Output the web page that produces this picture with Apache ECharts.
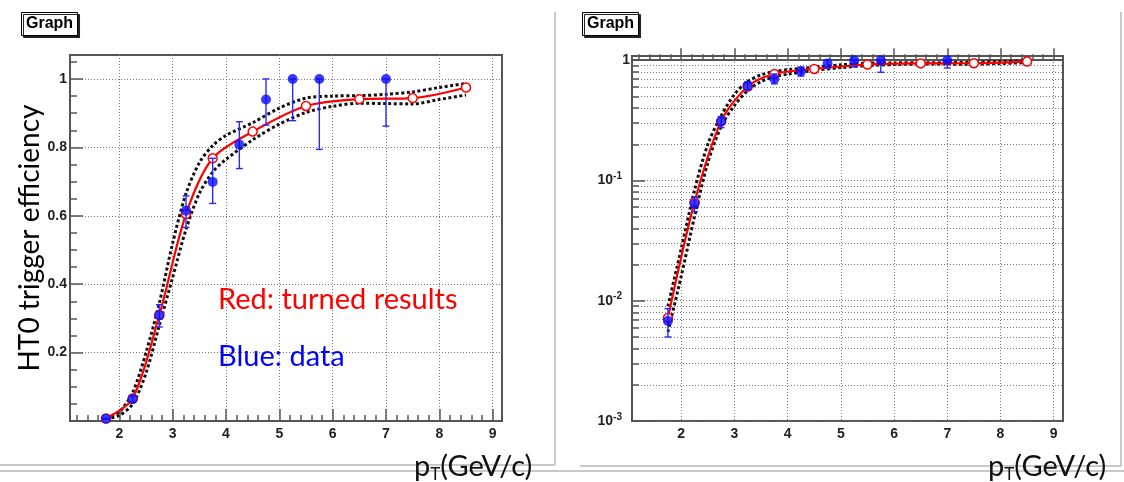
<!DOCTYPE html>
<html>
<head>
<meta charset="utf-8">
<script src="https://cdn.jsdelivr.net/npm/echarts@6/dist/echarts.min.js"></script>
<style>
  html, body { margin: 0; padding: 0; background: #ffffff; }
  #chart { width: 1124px; height: 482px; }
</style>
</head>
<body>
<div id="chart"></div>
<script>
// Measured trigger efficiency (blue) with asymmetric errors
const dataPt    = [1.75, 2.25, 2.75, 3.25, 3.75, 4.25, 4.75, 5.25, 5.75, 7.0];
const dataEff   = [0.0068, 0.064, 0.309, 0.615, 0.699, 0.808, 0.940, 1.0, 1.0, 1.0];
const dataErrLo = [0.0018, 0.009, 0.034, 0.049, 0.063, 0.070, 0.075, 0.122, 0.206, 0.138];
const dataErrHi = [0.0018, 0.009, 0.031, 0.043, 0.069, 0.067, 0.060, 0, 0, 0];

// Tuned efficiency (red)
const fitPt  = [1.75, 2.25, 2.75, 3.25, 3.75, 4.5, 5.5, 6.5, 7.5, 8.5];
const fitEff = [0.0072, 0.066, 0.310, 0.605, 0.768, 0.846, 0.921, 0.941, 0.944, 0.975];

// Uncertainty band of the tuned efficiency (black dotted)
const bandPt    = [1.75, 2.0, 2.25, 2.5, 2.75, 3.0, 3.25, 3.5, 3.75, 4.0, 4.5, 5.0, 5.5, 6.0, 6.5, 7.0, 7.5, 8.0, 8.5];
const bandUpper = [0.009, 0.027, 0.083, 0.20, 0.345, 0.52, 0.665, 0.755, 0.805, 0.835, 0.872, 0.915, 0.944, 0.950, 0.951, 0.955, 0.962, 0.975, 0.987];
const bandLower = [0.0055, 0.016, 0.050, 0.14, 0.280, 0.42, 0.560, 0.665, 0.728, 0.765, 0.822, 0.868, 0.902, 0.920, 0.929, 0.928, 0.927, 0.940, 0.953];

// Axis ticks
const xMajor = [2, 3, 4, 5, 6, 7, 8, 9];
const linMajor = [0.2, 0.4, 0.6, 0.8, 1.0];
const logDecades = [-3, -2, -1, 0];

const X_MIN = 1.075, X_MAX = 9.175;
const LIN_MIN = 0, LIN_MAX = 1.07;
const LOG_MIN = -3, LOG_MAX = 0.035;

const r2 = v => Math.round(v * 1000) / 1000;
const xMinor = [];
for (let v = 1.2; v < X_MAX; v += 0.2) {
  const t = r2(v);
  if (Math.abs(t - Math.round(t)) > 1e-6) xMinor.push(t);
}
const linMinor = [];
for (let v = 0.05; v < LIN_MAX; v += 0.05) {
  const t = r2(v);
  if (Math.abs(t / 0.2 - Math.round(t / 0.2)) > 1e-6) linMinor.push(t);
}
const logMinor = [];
for (let d = -3; d < 0; d++) {
  for (let k = 2; k <= 9; k++) logMinor.push(Math.log10(k) + d);
}

const log10 = v => Math.log10(v);

const AX = '#555';
const labelFont = { fontFamily: 'Liberation Sans', fontWeight: 'bold', fontSize: 14, color: '#222' };
const gridLine = { show: true, lineStyle: { color: '#777', width: 1, type: [1, 2] } };

function xAxes(gi) {
  return [
    {
      gridIndex: gi, type: 'value', position: 'bottom', min: X_MIN, max: X_MAX,
      axisLine: { show: true, lineStyle: { color: AX, width: 2 } },
      axisTick: { show: true, inside: true, length: 12, customValues: xMajor, lineStyle: { color: AX, width: 1.5 } },
      axisLabel: Object.assign({ customValues: xMajor, margin: 6 }, labelFont),
      splitLine: gridLine
    },
    {
      gridIndex: gi, type: 'value', position: 'bottom', min: X_MIN, max: X_MAX,
      axisLine: { show: false },
      axisTick: { show: true, inside: true, length: 6, customValues: xMinor, lineStyle: { color: AX, width: 1.5 } },
      axisLabel: { show: false },
      splitLine: { show: false }
    }
  ];
}

const yAxes = [
  {
    gridIndex: 0, type: 'value', position: 'left', min: LIN_MIN, max: LIN_MAX,
    axisLine: { show: true, lineStyle: { color: AX, width: 2 } },
    axisTick: { show: true, inside: true, length: 13, customValues: linMajor, lineStyle: { color: AX, width: 1.5 } },
    axisLabel: Object.assign({
      customValues: linMajor, margin: 3,
      formatter: v => (Math.abs(v - 1) < 1e-9 ? '1' : v.toFixed(1))
    }, labelFont),
    splitLine: gridLine,
    name: 'HT0 trigger efficiency', nameLocation: 'middle', nameRotate: 90, nameGap: 16,
    nameTextStyle: { fontFamily: 'Lato', fontSize: 28, fontWeight: 'normal', color: '#000' }
  },
  {
    gridIndex: 0, type: 'value', position: 'left', min: LIN_MIN, max: LIN_MAX,
    axisLine: { show: false },
    axisTick: { show: true, inside: true, length: 7, customValues: linMinor, lineStyle: { color: AX, width: 1.5 } },
    axisLabel: { show: false },
    splitLine: { show: false }
  },
  {
    gridIndex: 1, type: 'value', position: 'left', min: LOG_MIN, max: LOG_MAX,
    axisLine: { show: true, lineStyle: { color: AX, width: 2 } },
    axisTick: { show: true, inside: true, length: 13, customValues: logDecades, lineStyle: { color: AX, width: 1.5 } },
    axisLabel: {
      customValues: logDecades, margin: 2,
      formatter: v => (Math.round(v) === 0 ? '{n|1}' : '{n|10}{s|' + Math.round(v) + '}'),
      rich: {
        n: { fontFamily: 'Liberation Sans', fontWeight: 'bold', fontSize: 14, color: '#222' },
        s: { fontFamily: 'Liberation Sans', fontWeight: 'bold', fontSize: 10, color: '#222', padding: [0, 8, 8, 0] }
      }
    },
    splitLine: gridLine
  },
  {
    gridIndex: 1, type: 'value', position: 'left', min: LOG_MIN, max: LOG_MAX,
    axisLine: { show: false },
    axisTick: { show: true, inside: true, length: 7, customValues: logMinor, lineStyle: { color: AX, width: 1.5 } },
    axisLabel: { show: false },
    splitLine: gridLine
  }
];

function errorBars(params, api) {
  const x = api.value(0);
  const lo = api.coord([x, api.value(1)]);
  const hi = api.coord([x, api.value(2)]);
  const cap = 3.5;
  const style = { stroke: '#2a2aff', lineWidth: 1.4 };
  return {
    type: 'group',
    children: [
      { type: 'line', shape: { x1: lo[0], y1: lo[1], x2: hi[0], y2: hi[1] }, style },
      { type: 'line', shape: { x1: lo[0] - cap, y1: lo[1], x2: lo[0] + cap, y2: lo[1] }, style },
      { type: 'line', shape: { x1: hi[0] - cap, y1: hi[1], x2: hi[0] + cap, y2: hi[1] }, style }
    ]
  };
}

function panelSeries(gi, tf) {
  const xi = gi * 2, yi = gi * 2;
  const pairs = (xs, ys) => xs.map((x, i) => [x, tf(ys[i])]);
  const band = {
    type: 'line', xAxisIndex: xi, yAxisIndex: yi, smooth: 0.3,
    symbol: 'none', silent: true, z: 2,
    lineStyle: { color: '#111', width: 3, type: [3, 2.5] }
  };
  return [
    Object.assign({}, band, { data: pairs(bandPt, bandUpper) }),
    Object.assign({}, band, { data: pairs(bandPt, bandLower) }),
    {
      type: 'line', xAxisIndex: xi, yAxisIndex: yi, z: 3, smooth: 0.3,
      data: pairs(fitPt, fitEff),
      symbol: 'circle', symbolSize: 9,
      itemStyle: { color: '#ffffff', borderColor: '#ff0000', borderWidth: 1.5 },
      lineStyle: { color: '#ff0000', width: 2.2 }
    },
    {
      type: 'custom', xAxisIndex: xi, yAxisIndex: yi, z: 4,
      renderItem: errorBars,
      encode: { x: 0, y: [1, 2] },
      data: dataPt.map((x, i) => [x, tf(dataEff[i] - dataErrLo[i]), tf(dataEff[i] + dataErrHi[i])])
    },
    {
      type: 'scatter', xAxisIndex: xi, yAxisIndex: yi, z: 5,
      data: pairs(dataPt, dataEff),
      symbol: 'circle', symbolSize: 10,
      itemStyle: { color: '#0a0aff' }
    }
  ];
}

const noteText = { fontFamily: 'Lato', fontSize: 29, fontWeight: 'normal' };
const ptTitleRich = {
  a: { fontFamily: 'Lato', fontSize: 29, fontWeight: 'normal', color: '#111' },
  b: { fontFamily: 'Lato', fontSize: 17, fontWeight: 'normal', color: '#111', padding: [15, 0, 0, 0] }
};
const graphBox = {
  padding: [4, 5, 4, 5], borderColor: '#000', borderWidth: 1, backgroundColor: '#fff',
  shadowColor: '#222', shadowOffsetX: 2, shadowOffsetY: 2, shadowBlur: 0.5,
  textStyle: { fontFamily: 'Liberation Sans', fontWeight: 'bold', fontSize: 16, color: '#000' }
};

const option = {
  animation: false,
  backgroundColor: '#ffffff',
  grid: [
    { left: 70, top: 55, width: 432, height: 366, show: true, borderColor: AX, borderWidth: 2, backgroundColor: '#fff' },
    { left: 632, top: 56, width: 431, height: 365, show: true, borderColor: AX, borderWidth: 2, backgroundColor: '#fff' }
  ],
  xAxis: xAxes(0).concat(xAxes(1)),
  yAxis: yAxes,
  title: [
    Object.assign({ text: 'Graph', left: 21, top: 12 }, graphBox),
    Object.assign({ text: 'Graph', left: 582, top: 12 }, graphBox),
    { text: 'Red: turned results', left: 218, top: 285, padding: 0, textStyle: Object.assign({ color: '#ff0000' }, noteText) },
    { text: 'Blue: data', left: 218, top: 342, padding: 0, textStyle: Object.assign({ color: '#0000ff' }, noteText) },
    { text: '{a|p}{b|T}{a|(GeV/c)}', left: 414, top: 451, padding: 0, textStyle: { fontWeight: 'normal', rich: ptTitleRich } },
    { text: '{a|p}{b|T}{a|(GeV/c)}', left: 988, top: 451, padding: 0, textStyle: { fontWeight: 'normal', rich: ptTitleRich } }
  ],
  graphic: [
    { type: 'line', z: -1, shape: { x1: 555, y1: 12, x2: 555, y2: 465 }, style: { stroke: '#c8c8c8', lineWidth: 2 } },
    { type: 'line', z: -1, shape: { x1: 0, y1: 465, x2: 555, y2: 465 }, style: { stroke: '#c8c8c8', lineWidth: 2 } },
    { type: 'line', z: -1, shape: { x1: 1121, y1: 12, x2: 1121, y2: 466 }, style: { stroke: '#c8c8c8', lineWidth: 2 } },
    { type: 'line', z: -1, shape: { x1: 580, y1: 466, x2: 1121, y2: 466 }, style: { stroke: '#c8c8c8', lineWidth: 2 } },
    { type: 'line', z: -1, shape: { x1: 0, y1: 471, x2: 1124, y2: 471 }, style: { stroke: '#c8c8c8', lineWidth: 2 } }
  ],
  series: panelSeries(0, v => v).concat(panelSeries(1, log10))
};

const chart = echarts.init(document.getElementById('chart'), null, { renderer: 'canvas' });
chart.setOption(option);
</script>
</body>
</html>
